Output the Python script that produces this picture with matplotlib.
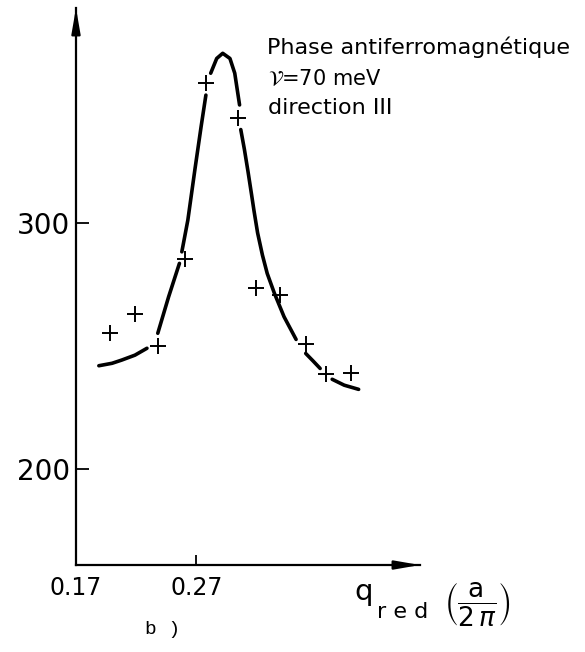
import numpy as np
import matplotlib
matplotlib.use("Agg")
import matplotlib.pyplot as plt

nan = np.nan

# measured points (q_red, energy)
q_points = [0.198, 0.219, 0.238, 0.261, 0.278, 0.305, 0.320, 0.340, 0.361, 0.378, 0.399]
e_points = [255.4, 262.9, 250.1, 285.4, 356.8, 342.8, 273.5, 270.7, 250.8, 238.5, 238.9]

# hand-drawn curve, broken where it passes the crosses
curve_q = [0.189, 0.200, 0.208, 0.219, 0.229, nan,
           0.238, 0.247, 0.256, nan,
           0.258, 0.263, 0.269, 0.274, 0.278, nan,
           0.282, 0.287, 0.292, 0.298, 0.302, 0.306, nan,
           0.307, 0.310, 0.313, 0.316, 0.318, 0.321, 0.325, 0.329, 0.335,
           0.343, 0.353, nan,
           0.361, 0.367, 0.373, nan,
           0.383, 0.393, 0.405]
curve_e = [242.0, 243.0, 244.3, 246.3, 249.1, nan,
           255.2, 270.0, 283.6, nan,
           288.3, 301.2, 322.2, 339.1, 352.0, nan,
           360.9, 366.9, 369.0, 366.9, 360.9, 348.0, nan,
           338.0, 330.0, 321.0, 311.5, 305.0, 296.0, 287.0, 279.5, 271.4,
           261.9, 252.7, nan,
           247.0, 244.0, 240.9, nan,
           236.5, 234.1, 232.4]

x_ticks = [0.17, 0.27]
x_labels = ["0.17", "0.27"]
y_ticks = [200, 300]
y_labels = ["200", "300"]

fig = plt.figure(figsize=(5.85, 6.52), dpi=100)
ax = fig.add_axes([0.1299, 0.1334, 0.588, 0.8543])

ax.plot(curve_q, curve_e, color="black", lw=2.6, solid_capstyle="round")
ax.plot(q_points, e_points, linestyle="none", marker="+", color="black",
        markersize=11, markeredgewidth=1.4)

ax.set_xlim(0.17, 0.456)
ax.set_ylim(161, 387.4)

for side in ["top", "right"]:
    ax.spines[side].set_visible(False)
for side in ["left", "bottom"]:
    ax.spines[side].set_linewidth(1.6)

ax.set_xticks(x_ticks)
ax.set_xticklabels(x_labels)
ax.set_yticks(y_ticks)
ax.set_yticklabels(y_labels)
ax.tick_params(axis="x", direction="in", length=7, width=1.3, pad=8, labelsize=17)
ax.tick_params(axis="y", direction="in", length=9.5, width=1.3, pad=4, labelsize=20)

# arrow heads on both axes
arrow = dict(arrowstyle="-|>,head_length=0.75,head_width=0.13", color="black",
             lw=1.6, mutation_scale=20, shrinkA=0, shrinkB=0)
ax.annotate("", xy=(0, 1), xytext=(0, 0.95), xycoords="axes fraction",
            arrowprops=arrow, annotation_clip=False)
ax.annotate("", xy=(1, 0), xytext=(0.93, 0), xycoords="axes fraction",
            arrowprops=arrow, annotation_clip=False)

# legend text
fig.text(0.456, 0.928, "Phase antiferromagnétique", fontsize=16, va="center")
fig.text(0.458, 0.880, r"$\mathcal{V}$=70 meV", fontsize=15, va="center")
fig.text(0.458, 0.834, "direction III", fontsize=16, va="center")

# axis label
fig.text(354 / 585, 1 - 600 / 652, "q", fontsize=21, va="baseline")
fig.text(377 / 585, 1 - 618 / 652, "r e d", fontsize=16, va="baseline")
fig.text(444 / 585, 1 - 604 / 652, r"$\left(\dfrac{\mathrm{a}}{2\,\pi}\right)$",
         fontsize=19, va="center")

fig.text(163 / 585, 1 - 630 / 652, "b )", fontsize=14, family="Liberation Mono",
         ha="center", va="center")

fig.savefig("out.png", dpi=100)
